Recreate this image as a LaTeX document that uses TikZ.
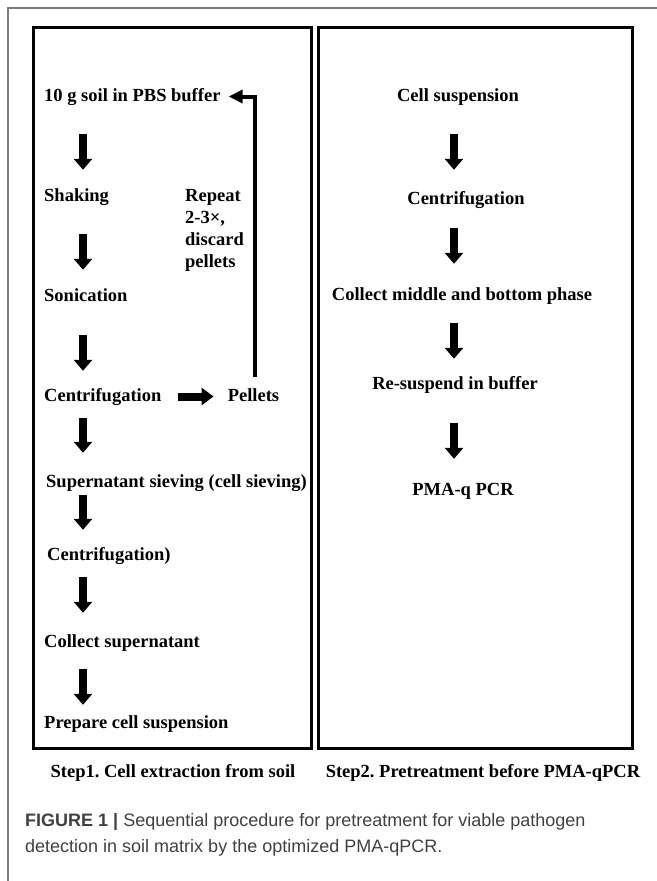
\documentclass[tikz,border=0pt]{standalone}
\usepackage{fontspec}
\setmainfont{Liberation Serif}
\newfontfamily\captionsans{Liberation Sans}
\usetikzlibrary{arrows.meta, positioning}
\definecolor{frameGray}{RGB}{125, 125, 125}
\definecolor{captionGray}{RGB}{64, 64, 64}

\begin{document}
\begin{tikzpicture}[
    x=1bp, y=-1bp,
    stepitem/.style={
        inner sep=0pt,
        font=\fontsize{18.5bp}{22bp}\selectfont\bfseries,
        text height=13bp,
        text depth=4bp
    },
    notetext/.style={
        inner sep=0pt,
        align=left,
        font=\fontsize{18.5bp}{22bp}\selectfont\bfseries
    },
    flowarrow/.style={
        -{Triangle[length=11bp, width=18bp]},
        line width=7.5bp
    },
    sidearrow/.style={
        -{Triangle[length=12bp, width=17bp]},
        line width=8bp
    },
    looparrow/.style={
        -{Triangle[length=14bp, width=13bp]},
        line width=4bp
    },
    panel/.style={line width=3bp}
]
\useasboundingbox (0,0) rectangle (657,881);

% Page frame and the two panels
\draw[frameGray, line width=1.3bp] (8,881) -- (8,8) -- (657,8);
\draw[panel] (33,27) rectangle (311,748);
\draw[panel] (318,27) rectangle (632,748);

% Step 1 chain
\node[stepitem, anchor=base west] (l1) at (44,101) {10 g soil in PBS buffer};
\node[stepitem, anchor=base west] (l2) at (44,201) {Shaking};
\node[stepitem, anchor=base west] (l3) at (44,301) {Sonication};
\node[stepitem, anchor=base west] (l4) at (44,401) {Centrifugation};
\node[stepitem, anchor=base west] (l5) at (46,487) {Supernatant sieving (cell sieving)};
\node[stepitem, anchor=base west] (l6) at (47,560) {Centrifugation)};
\node[stepitem, anchor=base west] (l7) at (44,647) {Collect supernatant};
\node[stepitem, anchor=base west] (l8) at (44,728) {Prepare cell suspension};
\node[stepitem, right=66bp of l4] (pel) {Pellets};
\node[notetext, anchor=north west] (note) at (185,189) {Repeat\\2-3×,\\discard\\pellets};

% Step 2 chain
\node[stepitem, anchor=base] (r1) at (458,101) {Cell suspension};
\node[stepitem, anchor=base] (r2) at (466,204) {Centrifugation};
\node[stepitem, anchor=base] (r3) at (462,300) {Collect middle and bottom phase};
\node[stepitem, anchor=base] (r4) at (455,389) {Re-suspend in buffer};
\node[stepitem, anchor=base] (r5) at (463,495) {PMA-q PCR};

% Arrow axes
\coordinate (laxis) at (83,0);
\coordinate (raxis) at (454,0);

% Arrows, step 1
\draw[flowarrow, shorten <=29bp, shorten >=18bp] (l1.south -| laxis) -- (l2.north -| laxis);
\draw[flowarrow, shorten <=29bp, shorten >=18bp] (l2.south -| laxis) -- (l3.north -| laxis);
\draw[flowarrow, shorten <=30bp, shorten >=17bp] (l3.south -| laxis) -- (l4.north -| laxis);
\draw[flowarrow, shorten <=13bp, shorten >=21bp] (l4.south -| laxis) -- (l5.north -| laxis);
\draw[flowarrow, shorten <=4bp, shorten >=17bp] (l5.south -| laxis) -- (l6.north -| laxis);
\draw[flowarrow, shorten <=13bp, shorten >=21bp] (l6.south -| laxis) -- (l7.north -| laxis);
\draw[flowarrow, shorten <=18bp, shorten >=10bp] (l7.south -| laxis) -- (l8.north -| laxis);
\draw[sidearrow, shorten <=16bp, shorten >=14bp] (l4) -- (pel);
\draw[looparrow, shorten <=11bp, shorten >=8bp] ([xshift=2bp]pel.north) |- (l1.east);

% Arrows, step 2
\draw[flowarrow, shorten <=29bp, shorten >=21bp] (r1.south -| raxis) -- (r2.north -| raxis);
\draw[flowarrow, shorten <=20bp, shorten >=23bp] (r2.south -| raxis) -- (r3.north -| raxis);
\draw[flowarrow, shorten <=19bp, shorten >=17bp] (r3.south -| raxis) -- (r4.north -| raxis);
\draw[flowarrow, shorten <=30bp, shorten >=23bp] (r4.south -| raxis) -- (r5.north -| raxis);

% Panel titles
\node[stepitem, anchor=base] (t1) at (173,777) {Step1.\ Cell extraction from soil};
\node[stepitem, anchor=base] (t2) at (483,777) {Step2.\ Pretreatment before PMA-qPCR};

% Figure caption
\node[anchor=north west, inner sep=0pt, align=left, text=captionGray,
      font=\captionsans\fontsize{18bp}{26bp}\selectfont] (figcap) at (25,813)
    {{\bfseries FIGURE 1 |} Sequential procedure for pretreatment for viable pathogen\\
     detection in soil matrix by the optimized PMA-qPCR.};

\end{tikzpicture}
\end{document}
